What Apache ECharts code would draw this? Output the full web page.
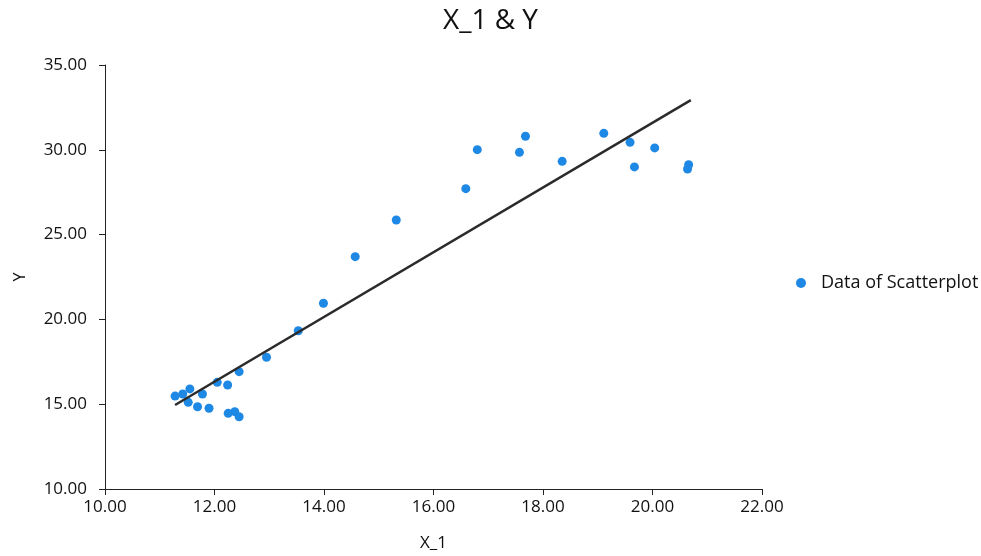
<!DOCTYPE html>
<html><head><meta charset="utf-8">
<script src="https://cdn.jsdelivr.net/npm/echarts@6/dist/echarts.min.js"></script>
<style>html,body{margin:0;padding:0;background:#fff}#c{width:981px;height:556px}</style>
</head><body><div id="c"></div>
<script>
var xValues = [11.28,11.42,11.55,11.52,11.78,11.69,11.90,12.05,12.24,12.45,12.25,12.37,12.45,12.95,13.53,13.99,14.57,15.32,16.59,16.80,17.57,17.68,18.35,19.11,19.59,19.67,20.04,20.66,20.64];
var yValues = [15.48,15.60,15.90,15.11,15.60,14.85,14.76,16.29,16.13,16.92,14.46,14.56,14.26,17.77,19.33,20.95,23.70,25.86,27.71,30.01,29.85,30.80,29.32,30.97,30.44,28.99,30.11,29.12,28.87];
var lineX = [11.28, 20.70];
var lineY = [14.95, 32.93];
var xTicks = {min: 10, max: 22, interval: 2};
var yTicks = {min: 10, max: 35, interval: 5};

var font = '"Open Sans", "Noto Sans", sans-serif';
var chart = echarts.init(document.getElementById('c'));
chart.setOption({
  animation: false,
  title: {text: 'X_1 & Y', left: 'center', top: 2,
    textStyle: {fontFamily: font, fontSize: 28, fontWeight: 'normal', color: '#111'}},
  legend: {orient: 'vertical', left: 796, top: 274, padding: 0, itemWidth: 10, itemHeight: 10, itemGap: 8,
    data: [{name: 'Data of Scatterplot', icon: 'circle'}],
    textStyle: {fontFamily: font, fontSize: 18, color: '#111', padding: [0, 0, 0, 10]}},
  grid: {left: 105, right: 219, top: 65, bottom: 67, containLabel: false, outerBoundsMode: 'none'},
  xAxis: {type: 'value', min: xTicks.min, max: xTicks.max, interval: xTicks.interval,
    name: 'X_1', nameLocation: 'middle', nameGap: 46,
    nameTextStyle: {fontFamily: font, fontSize: 17, color: '#111'},
    axisLine: {lineStyle: {color: '#222'}}, axisTick: {show: true, length: 6, lineStyle: {color: '#222'}},
    axisLabel: {fontFamily: font, fontSize: 17, color: '#111', margin: 10, formatter: function(v){return v.toFixed(2);}},
    splitLine: {show: false}},
  yAxis: {type: 'value', min: yTicks.min, max: yTicks.max, interval: yTicks.interval,
    name: 'Y', nameLocation: 'middle', nameGap: 77,
    nameTextStyle: {fontFamily: font, fontSize: 16, color: '#111'},
    axisLine: {show: true, lineStyle: {color: '#222'}}, axisTick: {show: true, length: 6, lineStyle: {color: '#222'}},
    axisLabel: {fontFamily: font, fontSize: 17, color: '#111', margin: 18, formatter: function(v){return v.toFixed(2);}},
    splitLine: {show: false}},
  series: [
    {name: 'Data of Scatterplot', type: 'scatter', symbolSize: 9,
     itemStyle: {color: '#1E88E5', opacity: 1},
     data: xValues.map(function(x, i){return [x, yValues[i]];}), z: 3},
    {name: 'fit', type: 'line', symbol: 'none', silent: true,
     lineStyle: {color: '#2b2b2b', width: 2.5},
     data: lineX.map(function(x, i){return [x, lineY[i]];}), z: 4}
  ]
});
</script></body></html>
